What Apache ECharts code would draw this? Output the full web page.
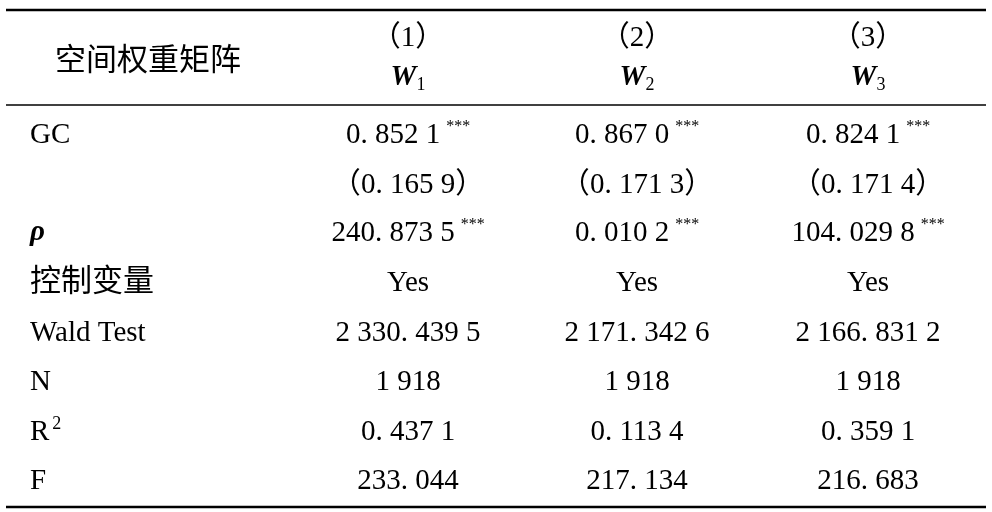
<!DOCTYPE html>
<html><head><meta charset="utf-8">
<script src="https://cdn.jsdelivr.net/npm/echarts@6/dist/echarts.min.js"></script>
<style>html,body{margin:0;background:#fff}#t{width:992px;height:512px}</style>
</head><body><div id="t"></div>
<script>
var colHeads = ['（1）', '（2）', '（3）'];
var colSubs = ['1', '2', '3'];
var rowLabels = ['GC', '', 'ρ', '控制变量', 'Wald Test', 'N', 'R2', 'F'];
var col1 = ['0. 852 1***', '（0. 165 9）', '240. 873 5***', 'Yes', '2 330. 439 5', '1 918', '0. 437 1', '233. 044'];
var col2 = ['0. 867 0***', '（0. 171 3）', '0. 010 2***', 'Yes', '2 171. 342 6', '1 918', '0. 113 4', '217. 134'];
var col3 = ['0. 824 1***', '（0. 171 4）', '104. 029 8***', 'Yes', '2 166. 831 2', '1 918', '0. 359 1', '216. 683'];

var font = '"Liberation Serif", "Noto Sans CJK SC", serif';
var colX = [408, 637, 868];
var rowY = [135, 185, 233, 283, 333, 382, 432, 481];
var cols = [col1, col2, col3];

var chart = echarts.init(document.getElementById('t'), null, {renderer: 'canvas'});
var g = [];
function hline(y, w) {
  g.push({type: 'line', shape: {x1: 6, y1: y, x2: 986, y2: y}, style: {stroke: '#000', lineWidth: w}});
}
hline(10, 2.5); hline(105, 1.5); hline(507, 2.5);

function txt(x, y, s, align, rich, size) {
  g.push({type: 'text', x: x, y: y, style: {text: s, font: (size || 29) + 'px ' + font, fill: '#000',
    align: align, verticalAlign: 'middle', rich: rich}});
}
var rich = {
  n: {fontSize: 29, fontFamily: font},
  s: {fontSize: 16, fontFamily: font, padding: [0, 0, 16, 6]},
  sub: {fontSize: 18, fontFamily: font, padding: [14, 0, 0, 0]},
  w: {fontSize: 29, fontFamily: font, fontStyle: 'italic', fontWeight: 'bold'},
  sup: {fontSize: 18, fontFamily: font, padding: [0, 0, 16, 3]}
};
txt(148, 62, '空间权重矩阵', 'center', null, 31);
colHeads.forEach(function (h, i) {
  txt(colX[i], 38, h, 'center');
  txt(colX[i], 78, '{w|W}{sub|' + colSubs[i] + '}', 'center', rich);
});
rowLabels.forEach(function (l, r) {
  var s = l;
  if (l === 'R2') s = '{n|R}{sup|2}';
  if (l === 'ρ') s = '{w|ρ}';
  txt(30, rowY[r], s, 'left', rich, l === '控制变量' ? 31 : 29);
  cols.forEach(function (c, i) {
    var v = c[r];
    if (v.indexOf('***') >= 0) v = '{n|' + v.replace('***', '') + '}{s|***}';
    txt(colX[i], rowY[r], v, 'center', rich);
  });
});
chart.setOption({backgroundColor: '#fff', graphic: g});
window.addEventListener('resize', chart.resize);
</script></body></html>
